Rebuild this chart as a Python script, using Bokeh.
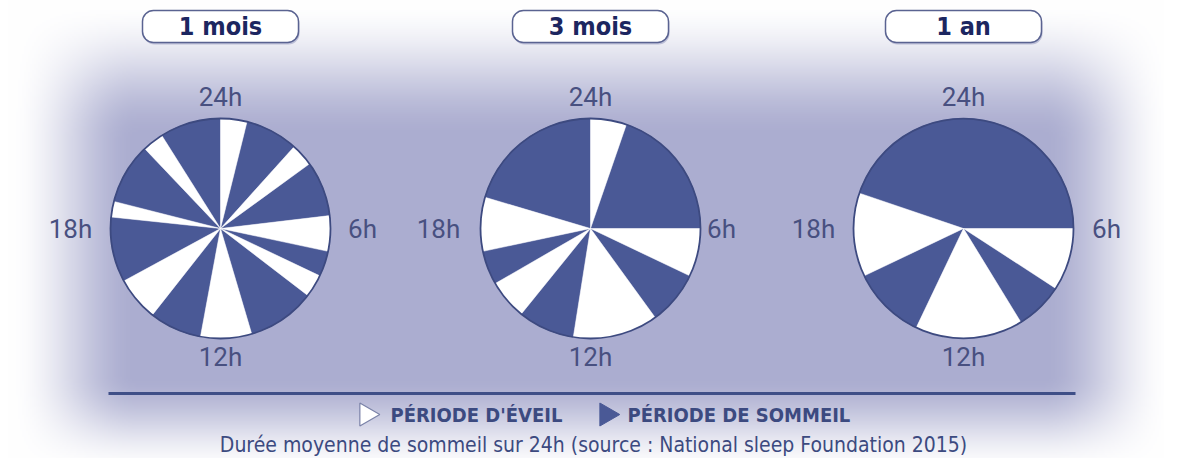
import numpy as np
from bokeh.plotting import figure
from bokeh.models import Range1d
from bokeh.core.properties import value
from bokeh.embed import file_html
from bokeh.resources import INLINE

# ---------------- data ----------------
ages = ["1 mois", "3 mois", "1 an"]
# awake periods (start hour, end hour) on a 24h clock, 0h at top, clockwise
awake_1mois = [(0.0, 0.93), (2.8, 3.6), (5.55, 6.8), (7.7, 8.5), (10.9, 12.7),
               (14.55, 16.1), (18.4, 18.95), (21.1, 21.85)]
awake_3mois = [(0.0, 1.27), (6.0, 7.7), (9.6, 12.6), (14.6, 16.0), (17.2, 19.1)]
awake_1an = [(6.0, 8.2), (9.9, 13.7), (16.3, 19.25)]
awake_all = [awake_1mois, awake_3mois, awake_1an]
hour_labels = ["24h", "6h", "12h", "18h"]
legend_labels = ["PÉRIODE D'ÉVEIL", "PÉRIODE DE SOMMEIL"]
source_text = "Durée moyenne de sommeil sur 24h (source : National sleep Foundation 2015)"

# ---------------- style ----------------
FW, FH = 1164, 458
BLUE = "#4a5996"
EDGE = "#3d4a80"
LAV = np.array([171, 173, 208], dtype=float)
TXT = "#485080"
NAVY = "#1c2660"
COND = value('"DejaVu Sans Condensed", sans-serif')
HOURF = value("Roboto")


def Y(py):
    return FH - py


p = figure(width=FW, height=FH, x_range=Range1d(0, FW), y_range=Range1d(0, FH),
           output_backend="svg", toolbar_location=None, min_border=0)
p.axis.visible = False
p.grid.visible = False
p.outline_line_color = None
p.background_fill_color = "white"
p.border_fill_color = "white"


# background: soft lavender vignette
def smooth(t):
    t = np.clip(t, 0, 1)
    return t * t * (3 - 2 * t)


nx, ny = 582, 229
xs = (np.arange(nx) + 0.5) * FW / nx
ys = (np.arange(ny) + 0.5) * FH / ny
X, YY = np.meshgrid(xs, ys)
PY = FH - YY
sx = smooth((X - 8) / 130) * smooth((1172 - X) / 130)
sy = smooth((PY - 0) / 140) * smooth((474 - PY) / 100)
a = sx * sy
rgb = 255 * (1 - a[..., None]) + LAV * a[..., None]
img = np.zeros((ny, nx), dtype=np.uint32)
view = img.view(dtype=np.uint8).reshape((ny, nx, 4))
for k in range(3):
    view[..., k] = rgb[..., k].astype(np.uint8)
view[..., 3] = 255
p.image_rgba(image=[img], x=0, y=0, dw=FW, dh=FH)

# layout
centers_x = [220, 590, 963]
center_y = Y(228)
R = 110
label_dx_left = [-150, -152, -150]
label_dx_right = [142, 131, 143]


def complement(intervals):
    out = []
    cur = 0.0
    for s, e in sorted(intervals):
        if s > cur:
            out.append((cur, s))
        cur = e
    if cur < 24:
        out.append((cur, 24.0))
    if len(out) > 1 and out[0][0] == 0.0 and out[-1][1] == 24.0:
        first = out.pop(0)
        last = out.pop()
        out.append((last[0], 24.0 + first[1]))
    return out


def ang(h):
    return np.pi / 2 - h * np.pi / 12


for i, age in enumerate(ages):
    cxp = centers_x[i]
    aw = awake_all[i]
    sl = complement(aw)
    for ints, col in ((sl, BLUE), (aw, "white")):
        p.wedge(x=[cxp] * len(ints), y=[center_y] * len(ints), radius=R,
                start_angle=[ang(s) for s, e in ints], end_angle=[ang(e) for s, e in ints],
                direction="clock", fill_color=col, line_color=col, line_width=0.5)
    p.circle(x=[cxp], y=[center_y], radius=R, fill_color=None, line_color=EDGE, line_width=1.8)

    # title box (with a faint shadow)
    p.quad(left=[cxp - 77], right=[cxp + 79], top=[Y(12)], bottom=[Y(44)],
           fill_color="#9ea2c4", fill_alpha=0.6, line_color=None, border_radius=11)
    p.quad(left=[cxp - 78], right=[cxp + 78], top=[Y(10)], bottom=[Y(42)],
           fill_color="white", line_color="#5a6391", line_width=1.5, border_radius=11)
    p.text(x=[cxp], y=[Y(26)], text=[age], text_align="center", text_baseline="middle",
           text_font=COND, text_font_style="bold", text_font_size="25px", text_color=NAVY)

    # hour labels
    lx = [cxp, cxp + label_dx_right[i], cxp, cxp + label_dx_left[i]]
    ly = [Y(96), center_y, Y(356), center_y]
    p.text(x=lx, y=ly, text=hour_labels, text_align="center", text_baseline="middle",
           text_font=HOURF, text_font_size="26px", text_color=TXT)

# separator line
p.segment(x0=[108], y0=[Y(393)], x1=[1075], y1=[Y(393)], line_color="#3f4f87", line_width=3)

# legend
ly_leg = Y(414)
p.scatter(x=[366], y=[ly_leg], marker="triangle", size=23, angle=-np.pi / 2,
          fill_color="white", line_color="#7a82a8", line_width=1.2)
p.text(x=[390], y=[ly_leg], text=[legend_labels[0]], text_align="left", text_baseline="middle",
       text_font=COND, text_font_style="bold", text_font_size="20px", text_color="#3c4a80")
p.scatter(x=[606], y=[ly_leg], marker="triangle", size=23, angle=-np.pi / 2,
          fill_color=BLUE, line_color=BLUE, line_width=1)
p.text(x=[627], y=[ly_leg], text=[legend_labels[1]], text_align="left", text_baseline="middle",
       text_font=COND, text_font_style="bold", text_font_size="20px", text_color="#3c4a80")

# source
p.text(x=[593], y=[Y(444)], text=[source_text], text_align="center", text_baseline="middle",
       text_font=COND, text_font_size="21px", text_color="#3c4a80")

open("out.html", "w").write(file_html(p, INLINE))
